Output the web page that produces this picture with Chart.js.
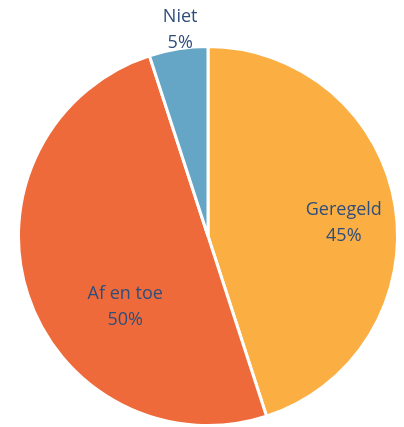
<!DOCTYPE html>
<html>
<head>
<meta charset="utf-8">
<script src="https://cdn.jsdelivr.net/npm/chart.js@4"></script>
<style>
  html, body { margin: 0; padding: 0; background: #fff; }
  #wrap { width: 404px; height: 427px; }
</style>
</head>
<body>
<div id="wrap"><canvas id="pie"></canvas></div>
<script>
// data
const categories = ["Geregeld", "Af en toe", "Niet"];
const percentages = [45, 50, 5];
const sliceColors = ["#FBAF42", "#EE6A3A", "#65A5C6"];

// label placement: angle (deg, clockwise from top) and radius fraction per slice
const labelSpots = [
  { angle: 84.5, frac: 0.72 },
  { angle: 229.3, frac: 0.576 },
  { angle: 352.3, frac: 1.096 }
];

const labelPlugin = {
  id: "sliceLabels",
  afterDatasetsDraw(chart) {
    const ctx = chart.ctx;
    const arcs = chart.getDatasetMeta(0).data;
    ctx.save();
    ctx.font = "18px 'Open Sans', sans-serif";
    ctx.fillStyle = "#2F4E7C";
    ctx.textAlign = "center";
    ctx.textBaseline = "middle";
    arcs.forEach((arc, i) => {
      const spot = labelSpots[i];
      const a = spot.angle * Math.PI / 180;
      const r = arc.outerRadius * spot.frac;
      const x = arc.x + Math.sin(a) * r;
      const y = arc.y - Math.cos(a) * r;
      ctx.fillText(categories[i], x, y - 13);
      ctx.fillText(percentages[i] + "%", x, y + 13);
    });
    ctx.restore();
  }
};

new Chart(document.getElementById("pie").getContext("2d"), {
  type: "pie",
  data: {
    labels: categories,
    datasets: [{
      data: percentages,
      backgroundColor: sliceColors,
      borderColor: "#ffffff",
      borderWidth: 3
    }]
  },
  options: {
    responsive: true,
    maintainAspectRatio: false,
    animation: false,
    layout: { padding: { left: 16, right: 4, top: 45, bottom: 0 } },
    plugins: {
      legend: { display: false },
      tooltip: { enabled: false }
    }
  },
  plugins: [labelPlugin]
});
</script>
</body>
</html>
